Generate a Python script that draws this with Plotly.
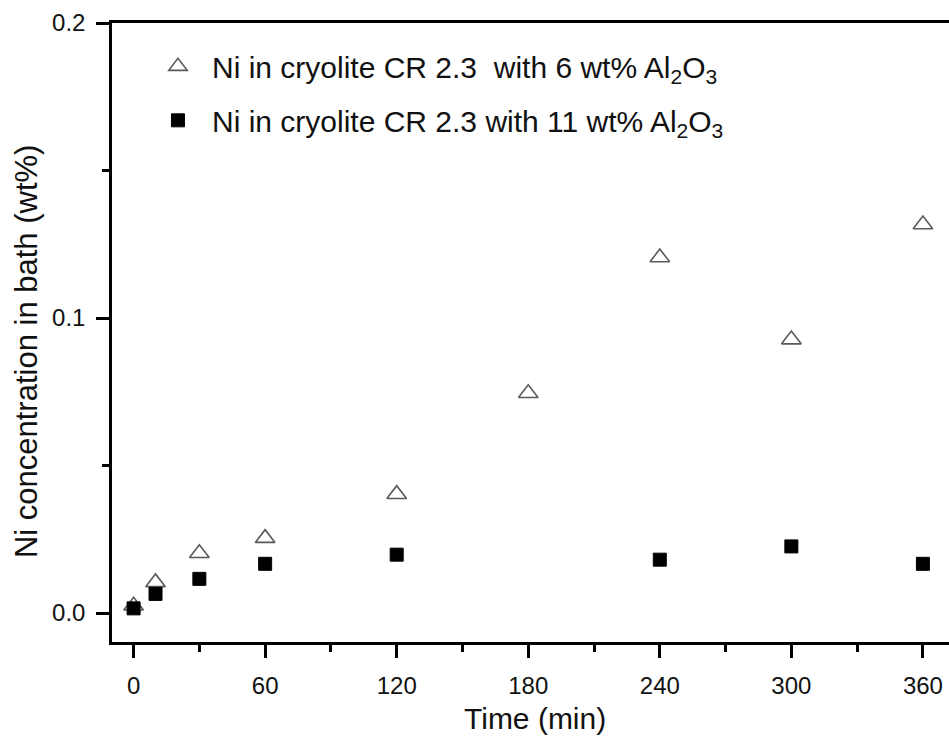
import plotly.graph_objects as go

time_6 = [0, 10, 30, 60, 120, 180, 240, 300, 360]
ni_6 = [0.0025, 0.0104, 0.0203, 0.0254, 0.0403, 0.0745, 0.1205, 0.0927, 0.1317]
time_11 = [0, 10, 30, 60, 120, 240, 300, 360]
ni_11 = [0.0016, 0.0065, 0.0116, 0.0167, 0.0198, 0.0181, 0.0226, 0.0167]
x_ticks = [0, 60, 120, 180, 240, 300, 360]
y_ticks = [0.0, 0.1, 0.2]
y_tick_labels = ["0.0", "0.1", "0.2"]

name_6 = "Ni in cryolite CR 2.3  with 6 wt% Al<sub>2</sub>O<sub>3</sub>"
name_11 = "Ni in cryolite CR 2.3 with 11 wt% Al<sub>2</sub>O<sub>3</sub>"

FONT = "Liberation Sans, Arial, sans-serif"

fig = go.Figure()
fig.add_trace(go.Scatter(
    x=time_6, y=ni_6, mode="markers", name=name_6, legendgroup="a",
    marker=dict(symbol="triangle-up-open", size=17, color="#5a5a5a",
                line=dict(width=1.6, color="#5a5a5a")),
))
fig.add_trace(go.Scatter(
    x=time_11, y=ni_11, mode="markers", name=name_11, legendgroup="b",
    marker=dict(symbol="square", size=13, color="black",
                line=dict(width=1, color="black")),
))

axis_common = dict(
    showline=True, linecolor="black", linewidth=2.5,
    ticks="outside", ticklen=13, tickwidth=2.5, tickcolor="black",
    showgrid=False, zeroline=False,
    tickfont=dict(family=FONT, size=24, color="#111"),
)

fig.update_xaxes(
    range=[-9.85, 371.9], tickvals=x_ticks, mirror=True, ticklabelstandoff=7,
    minor=dict(dtick=30, tick0=0, ticklen=7, tickwidth=2.5, tickcolor="black", ticks="outside"),
    **axis_common,
)
fig.update_yaxes(
    range=[-0.0098, 0.2], tickvals=y_ticks, ticktext=y_tick_labels, ticklabelstandoff=6,
    minor=dict(tickvals=[0.05, 0.15], ticklen=7, tickwidth=2.5, tickcolor="black", ticks="outside"),
    **axis_common,
)

fig.add_annotation(
    text="Time (min)", xref="paper", yref="paper",
    x=0.505, y=-0.1228, xanchor="center", yanchor="middle",
    showarrow=False,
    font=dict(family=FONT, size=30, color="#111"),
)
fig.add_annotation(
    text="Ni concentration in bath (wt%)", xref="paper", yref="paper",
    x=-0.1027, y=0.470, xanchor="center", yanchor="middle", textangle=-90,
    showarrow=False,
    font=dict(family=FONT, size=31, color="#111"),
)

fig.update_layout(
    width=949, height=738,
    margin=dict(l=112, r=0, t=23, b=96),
    plot_bgcolor="white", paper_bgcolor="white",
    legend=dict(
        x=0.0382, y=0.972, xanchor="left", yanchor="top",
        bgcolor="rgba(0,0,0,0)", tracegroupgap=12, itemwidth=58,
        font=dict(family=FONT, size=30, color="#111"),
    ),
)

fig.write_html("out.html")
